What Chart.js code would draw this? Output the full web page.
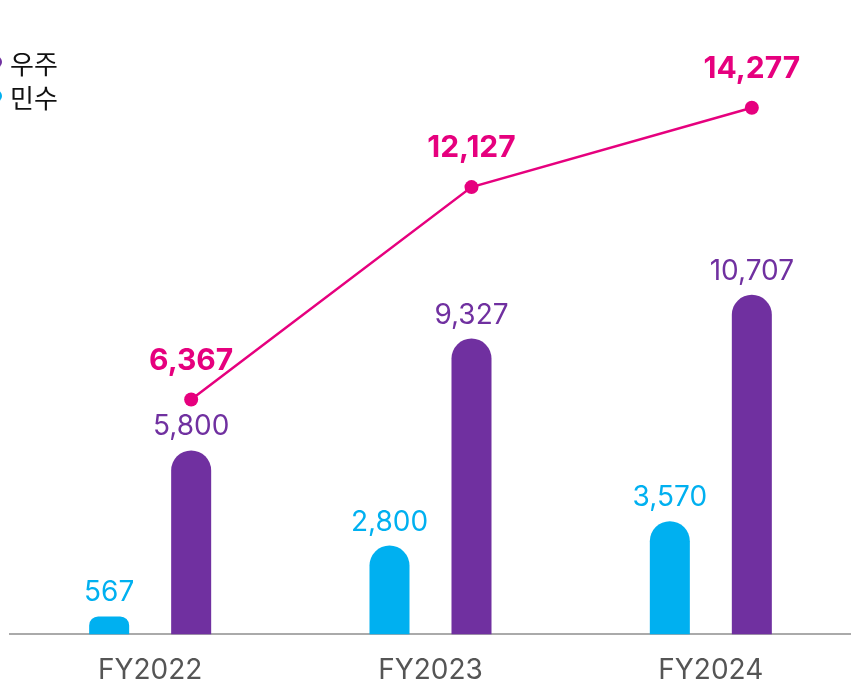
<!DOCTYPE html>
<html>
<head>
<meta charset="utf-8">
<script src="https://cdn.jsdelivr.net/npm/chart.js@4.4.1/dist/chart.umd.min.js"></script>
<style>
  html, body { margin: 0; padding: 0; background: #fff; overflow: hidden; }
  #wrap { position: relative; width: 851px; height: 685px; }
  #legend { position: absolute; left: -10px; top: 45px; font-family: "Noto Sans CJK KR", "Noto Sans", sans-serif; font-size: 26px; color: #111; }
  #legend .row { display: flex; align-items: center; height: 34px; }
  #legend .dot { width: 12px; height: 12px; border-radius: 50%; margin-right: 8px; }
</style>
</head>
<body>
<div id="wrap">
  <canvas id="chart" width="851" height="685"></canvas>
  <div id="legend"></div>
</div>
<script>
// ====== DATA ======
const categories = ["FY2022", "FY2023", "FY2024"];
const civilValues = [567, 2800, 3570];     // 민수
const spaceValues = [5800, 9327, 10707];   // 우주
const totalValues = [6367, 12127, 14277];  // 합계 (line)

const CYAN = "#00b0f0";
const PURPLE = "#7030a0";
const MAGENTA = "#e6007e";

// legend (space first, then civil), markers partly off the left edge like the original
const legendItems = [
  { label: "우주", color: PURPLE },
  { label: "민수", color: CYAN }
];
const legendEl = document.getElementById("legend");
legendItems.forEach(it => {
  const row = document.createElement("div");
  row.className = "row";
  row.innerHTML = `<span class="dot" style="background:${it.color}"></span><span>${it.label}</span>`;
  legendEl.appendChild(row);
});

// the total line sits over the purple bars, not the category centre
function lineShift(chart) {
  const purple = chart.getDatasetMeta(2).data[0];
  const line = chart.getDatasetMeta(0).data[0];
  return purple && line ? purple.x - line.x : 0;
}
const shiftLine = {
  id: "shiftLine",
  beforeDatasetDraw(chart, args) {
    if (args.index !== 0) return;
    chart.ctx.save();
    chart.ctx.translate(lineShift(chart), 0);
  },
  afterDatasetDraw(chart, args) {
    if (args.index !== 0) return;
    chart.ctx.restore();
  }
};

// value labels above bars and points
const valueLabels = {
  id: "valueLabels",
  afterDatasetsDraw(chart) {
    const ctx = chart.ctx;
    const dx = lineShift(chart);
    ctx.save();
    ctx.textAlign = "center";
    ctx.textBaseline = "alphabetic";
    chart.data.datasets.forEach((ds, i) => {
      const meta = chart.getDatasetMeta(i);
      meta.data.forEach((el, j) => {
        const txt = ds.data[j].toLocaleString("en-US");
        if (ds.type === "line") {
          ctx.font = "bold 30px Inter, sans-serif";
          ctx.fillStyle = MAGENTA;
          ctx.fillText(txt, el.x + dx, el.y - 30);
        } else {
          ctx.font = "28px Inter, sans-serif";
          ctx.fillStyle = ds.backgroundColor;
          ctx.fillText(txt, el.x, el.y - 15);
        }
      });
    });
    ctx.restore();
  }
};

new Chart(document.getElementById("chart"), {
  type: "bar",
  data: {
    labels: categories,
    datasets: [
      {
        type: "line",
        label: "합계",
        data: totalValues,
        yAxisID: "y2",
        borderColor: MAGENTA,
        backgroundColor: MAGENTA,
        borderWidth: 2.5,
        pointRadius: 7,
        pointHoverRadius: 7,
        pointBackgroundColor: MAGENTA,
        pointBorderWidth: 0,
        tension: 0,
        clip: false,
        order: 0
      },
      {
        label: "민수",
        data: civilValues,
        backgroundColor: CYAN,
        borderRadius: 20,
        borderSkipped: "start",
        categoryPercentage: 0.585,
        barPercentage: 0.488,
        order: 1
      },
      {
        label: "우주",
        data: spaceValues,
        backgroundColor: PURPLE,
        borderRadius: 20,
        borderSkipped: "start",
        categoryPercentage: 0.585,
        barPercentage: 0.488,
        order: 1
      }
    ]
  },
  options: {
    responsive: false,
    animation: false,
    layout: { autoPadding: false, padding: { left: 10, right: 0, top: 0, bottom: -21 } },
    plugins: {
      legend: { display: false },
      tooltip: { enabled: false }
    },
    scales: {
      x: {
        grid: { display: false, drawTicks: false },
        border: { display: true, color: "#aaaaaa", width: 2 },
        ticks: {
          color: "#555555",
          padding: 19,
          font: { family: "Inter, sans-serif", size: 28 }
        }
      },
      y: {
        display: false,
        min: 0,
        max: 20000
      },
      y2: {
        display: false,
        position: "right",
        min: 0,
        max: 17200
      }
    }
  },
  plugins: [shiftLine, valueLabels]
});
</script>
</body>
</html>
